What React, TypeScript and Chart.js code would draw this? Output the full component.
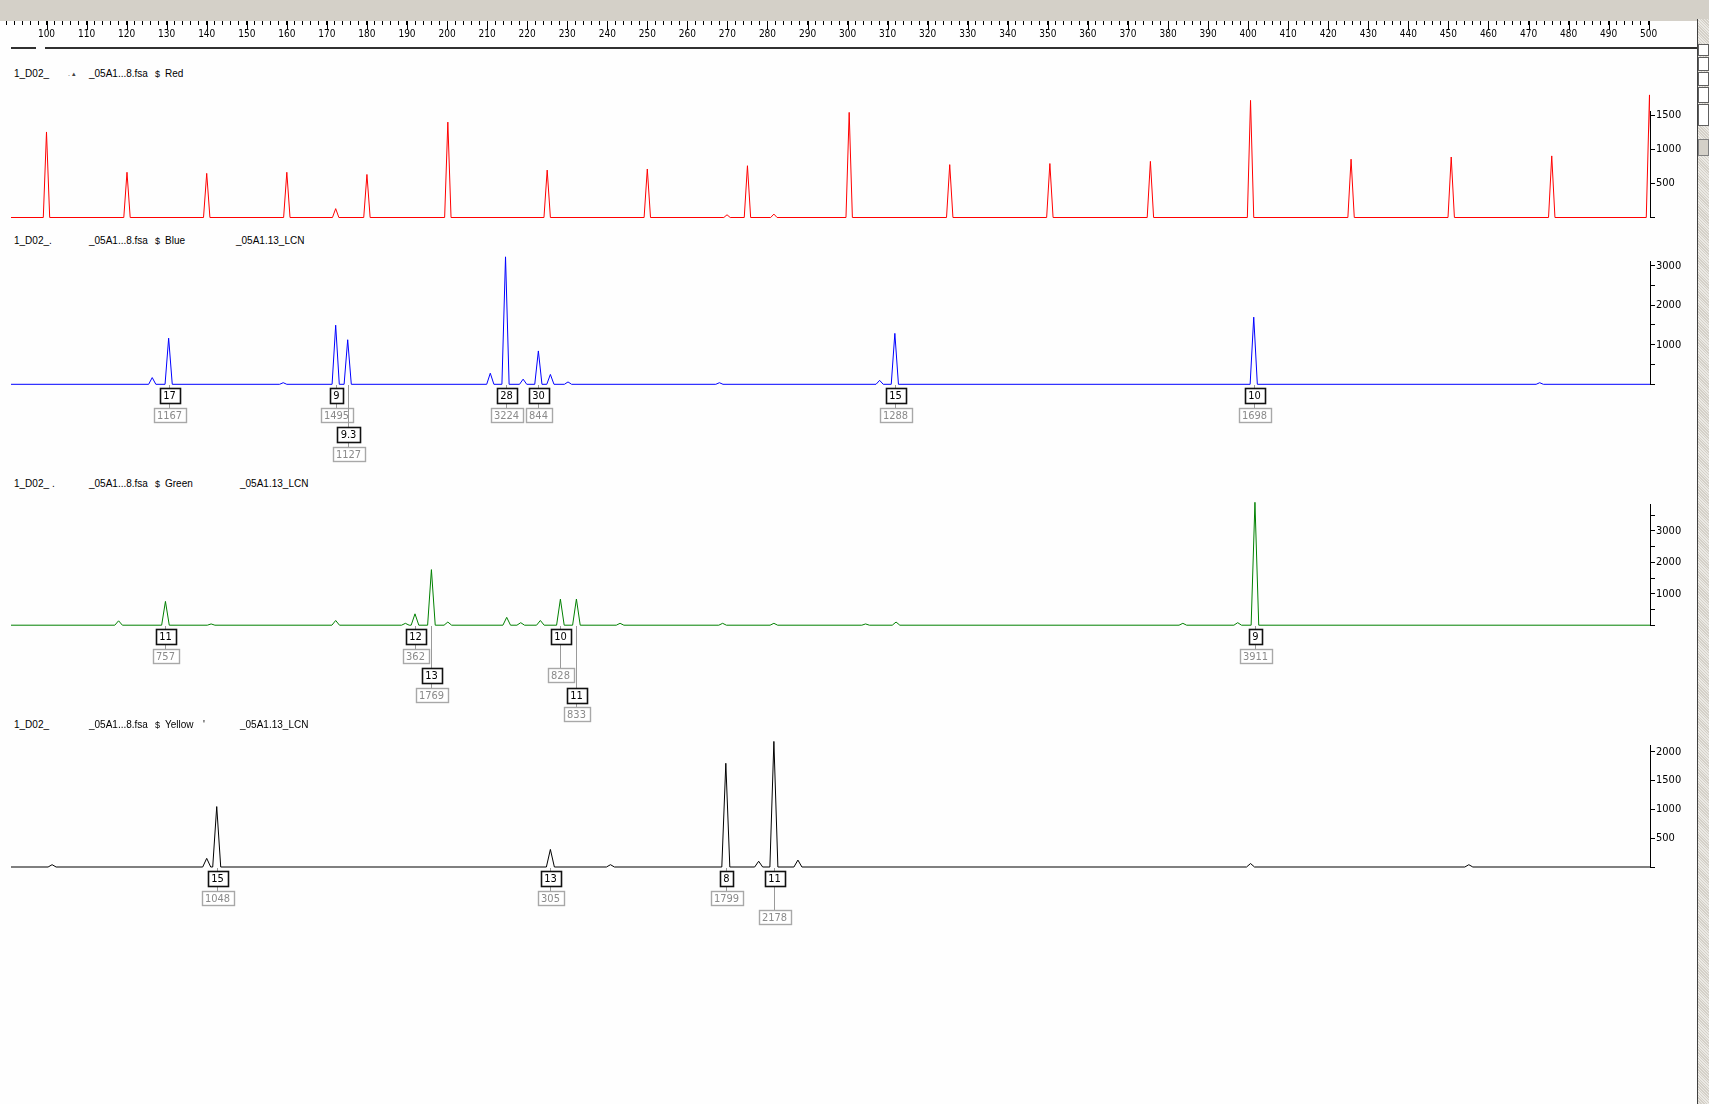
import { useEffect, useRef } from 'react';
import { Chart, registerables } from 'chart.js';

Chart.register(...registerables);

const W = 1697;
const H = 1104;
const X_MIN = 91.14;
const X_MAX = 500.33;
const RULER_MIN = 88.39;

const NARROW = '"Liberation Sans Narrow", "Arial Narrow", "DejaVu Sans Condensed", "Liberation Sans", sans-serif';
const UI = '"Liberation Sans", Arial, sans-serif';

// ---------- ruler ----------
const rulerFirstLabel = 100;
const rulerLastLabel = 500;
const rulerLabelStep = 10;
const rulerMinorStep = 2;

// ---------- Red (size standard) ----------
const redPeakSize = [100.0, 120.1, 140.0, 160.0, 172.2, 180.0, 200.2, 225.0, 250.0, 269.9, 275.0, 281.6, 300.4, 325.5, 350.5, 375.6, 400.6, 425.7, 450.7, 475.8, 500.2];
const redPeakRfu = [1254, 663, 647, 663, 130, 631, 1398, 695, 711, 40, 759, 50, 1541, 775, 791, 823, 1717, 855, 887, 903, 1797];
const redTicks = [0, 500, 1000, 1500];
const redTickLabels = ['', '500', '1000', '1500'];

// ---------- Blue ----------
const bluePeakSize = [126.4, 130.5, 159.1, 172.2, 175.2, 210.8, 214.6, 219.0, 222.8, 225.8, 230.2, 268.0, 308.0, 311.8, 401.4, 472.8];
const bluePeakRfu = [170, 1167, 40, 1495, 1127, 280, 3224, 130, 844, 250, 60, 40, 100, 1288, 1698, 40];
const blueTicks = [0, 500, 1000, 1500, 2000, 2500, 3000];
const blueTickLabels = ['', '', '1000', '', '2000', '', '3000'];
const blueAllele = ['17', '9', '9.3', '28', '30', '15', '10'];
const blueAlleleSize = [130.5, 172.2, 175.2, 214.6, 222.8, 311.8, 401.4];
const blueAlleleHeight = ['1167', '1495', '1127', '3224', '844', '1288', '1698'];
const blueAlleleTier = [0, 0, 2, 0, 0, 0, 0];
const blueHeightTier = [1, 1, 3, 1, 1, 1, 1];

// ---------- Green ----------
const greenPeakSize = [118.0, 129.7, 141.1, 172.2, 189.6, 192.0, 196.1, 200.2, 214.9, 218.4, 223.3, 228.3, 232.3, 243.2, 268.8, 281.6, 304.5, 312.1, 383.7, 397.4, 401.7];
const greenPeakRfu = [140, 757, 40, 150, 60, 362, 1769, 100, 250, 80, 150, 828, 833, 60, 60, 60, 40, 100, 60, 80, 3911];
const greenTicks = [0, 500, 1000, 1500, 2000, 2500, 3000, 3500];
const greenTickLabels = ['', '', '1000', '', '2000', '', '3000', ''];
const greenAllele = ['11', '12', '13', '10', '11', '9'];
const greenAlleleSize = [129.7, 192.0, 196.1, 228.3, 232.3, 401.7];
const greenAlleleHeight = ['757', '362', '1769', '828', '833', '3911'];
const greenAlleleTier = [0, 0, 2, 0, 3, 0];
const greenHeightTier = [1, 1, 3, 2, 4, 1];

// ---------- Yellow (drawn black) ----------
const yellowPeakSize = [101.4, 140.0, 142.5, 225.8, 240.8, 269.6, 277.8, 281.6, 287.6, 400.6, 455.1];
const yellowPeakRfu = [40, 150, 1048, 305, 40, 1799, 100, 2178, 120, 60, 40];
const yellowTicks = [0, 500, 1000, 1500, 2000];
const yellowTickLabels = ['', '500', '1000', '1500', '2000'];
const yellowAllele = ['15', '13', '8', '11'];
const yellowAlleleSize = [142.5, 225.8, 269.6, 281.6];
const yellowAlleleHeight = ['1048', '305', '1799', '2178'];
const yellowAlleleTier = [0, 0, 0, 0];
const yellowHeightTier = [1, 1, 1, 2];

type Labels = { allele: string[]; size: number[]; height: string[]; aTier: number[]; hTier: number[] };
type Panel = {
  color: string; sizes: number[]; rfu: number[]; half: number; yMax: number;
  ticks: number[]; tickLabels: string[]; top: number; base: number; labels?: Labels;
};

const PANELS: Panel[] = [
  { color: '#ff0000', sizes: redPeakSize, rfu: redPeakRfu, half: 0.8, yMax: 1551, ticks: redTicks, tickLabels: redTickLabels, top: 111.7, base: 217.5 },
  { color: '#0000ff', sizes: bluePeakSize, rfu: bluePeakRfu, half: 0.9, yMax: 3101, ticks: blueTicks, tickLabels: blueTickLabels, top: 261.7, base: 384.3,
    labels: { allele: blueAllele, size: blueAlleleSize, height: blueAlleleHeight, aTier: blueAlleleTier, hTier: blueHeightTier } },
  { color: '#008000', sizes: greenPeakSize, rfu: greenPeakRfu, half: 0.95, yMax: 3857, ticks: greenTicks, tickLabels: greenTickLabels, top: 504, base: 625.2,
    labels: { allele: greenAllele, size: greenAlleleSize, height: greenAlleleHeight, aTier: greenAlleleTier, hTier: greenHeightTier } },
  { color: '#000000', sizes: yellowPeakSize, rfu: yellowPeakRfu, half: 1.0, yMax: 2116, ticks: yellowTicks, tickLabels: yellowTickLabels, top: 745, base: 867,
    labels: { allele: yellowAllele, size: yellowAlleleSize, height: yellowAlleleHeight, aTier: yellowAlleleTier, hTier: yellowHeightTier } },
];

function buildTrace(sizes: number[], rfu: number[], half: number) {
  const pts: { x: number; y: number }[] = [{ x: X_MIN - 1, y: 0 }];
  sizes.forEach((s, i) => {
    pts.push({ x: s - half, y: 0 }, { x: s, y: rfu[i] }, { x: s + half, y: 0 });
  });
  pts.push({ x: X_MAX + 2, y: 0 });
  return pts;
}

function makeLabelPlugin(labels?: Labels) {
  return {
    id: 'alleleLabels',
    afterDatasetsDraw(chart: any) {
      if (!labels) return;
      const ctx = chart.ctx as CanvasRenderingContext2D;
      const xs = chart.scales.x;
      const ys = chart.scales.y;
      const base = ys.getPixelForValue(0);
      const tierTop = (t: number) => Math.round(base + 4 + t * 19.5);
      ctx.save();
      ctx.font = `11px ${NARROW}`;
      ctx.textAlign = 'center';
      ctx.textBaseline = 'middle';
      labels.allele.forEach((a, i) => {
        const px = Math.round(xs.getPixelForValue(labels.size[i])) + 0.5;
        const aTop = tierTop(labels.aTier[i]);
        const hTop = tierTop(labels.hTier[i]);
        const aW = Math.round(ctx.measureText(a).width + 7);
        const hW = Math.round(ctx.measureText(labels.height[i]).width + 7);
        ctx.strokeStyle = '#9a9a9a';
        ctx.lineWidth = 1;
        ctx.beginPath();
        ctx.moveTo(px, Math.round(base) + 1);
        ctx.lineTo(px, aTop);
        ctx.moveTo(px, aTop + 16);
        ctx.lineTo(px, hTop);
        ctx.stroke();
        const ax = Math.round(px - aW / 2) + 0.5;
        ctx.fillStyle = '#ffffff';
        ctx.fillRect(ax, aTop + 0.5, aW, 15);
        ctx.strokeStyle = '#111111';
        ctx.lineWidth = 1.6;
        ctx.strokeRect(ax, aTop + 0.5, aW, 15);
        ctx.fillStyle = '#000000';
        ctx.fillText(a, px, aTop + 8.5);
        const hx = Math.round(px - hW / 2) + 0.5;
        ctx.fillStyle = '#ffffff';
        ctx.fillRect(hx, hTop + 0.5, hW, 14);
        ctx.strokeStyle = '#a8a8a8';
        ctx.lineWidth = 1.4;
        ctx.strokeRect(hx, hTop + 0.5, hW, 14);
        ctx.fillStyle = '#8a8a8a';
        ctx.fillText(labels.height[i], px, hTop + 8);
      });
      ctx.restore();
    },
  };
}

const rulerMajorPlugin = {
  id: 'rulerMajor',
  afterDraw(chart: any) {
    const sx = chart.scales.x;
    const ctx = chart.ctx as CanvasRenderingContext2D;
    ctx.save();
    ctx.strokeStyle = '#000';
    ctx.lineWidth = 1;
    for (let v = rulerFirstLabel; v <= rulerLastLabel; v += rulerLabelStep) {
      const px = Math.round(sx.getPixelForValue(v)) + 0.5;
      ctx.beginPath();
      ctx.moveTo(px, sx.top);
      ctx.lineTo(px, sx.top + 9);
      ctx.stroke();
    }
    ctx.restore();
  },
};

function Title({ top, parts }: { top: number; parts: [number, string, number?, string?][] }) {
  return (
    <>
      {parts.map(([left, text, size, color], i) => (
        <span key={i} style={{ position: 'absolute', left, top, fontFamily: UI, fontSize: size ?? 10, color: color ?? '#000', whiteSpace: 'pre', lineHeight: '12px' }}>{text}</span>
      ))}
    </>
  );
}

export default function App() {
  const rulerRef = useRef<HTMLCanvasElement>(null);
  const panelRefs = useRef<(HTMLCanvasElement | null)[]>([]);

  useEffect(() => {
    const charts: Chart[] = [];
    if (rulerRef.current) {
      charts.push(new Chart(rulerRef.current, {
        type: 'line',
        data: { datasets: [{ data: [], pointRadius: 0 }] },
        options: {
          animation: false, responsive: false, devicePixelRatio: 1, events: [],
          layout: { padding: { left: 0, right: W - 1650, top: 0, bottom: 2 } },
          plugins: { legend: { display: false }, tooltip: { enabled: false } },
          scales: {
            x: {
              type: 'linear', position: 'bottom', min: RULER_MIN, max: X_MAX,
              afterFit: (s: any) => { s.height = 27; },
              afterBuildTicks: (s: any) => {
                const t: { value: number }[] = [];
                for (let v = Math.ceil(RULER_MIN / rulerMinorStep) * rulerMinorStep; v <= rulerLastLabel; v += rulerMinorStep) t.push({ value: v });
                s.ticks = t;
              },
              border: { display: false },
              grid: { display: true, drawOnChartArea: false, drawTicks: true, tickLength: 4, color: '#000', lineWidth: 1 },
              ticks: {
                autoSkip: false, maxRotation: 0, minRotation: 0, padding: 3,
                color: '#000', font: { family: NARROW, size: 10 },
                callback: (v: any) => (v % rulerLabelStep === 0 && v >= rulerFirstLabel ? String(v) : ''),
              },
            },
            y: { display: false },
          },
        },
        plugins: [rulerMajorPlugin],
      } as any));
    }
    PANELS.forEach((p, i) => {
      const cv = panelRefs.current[i];
      if (!cv) return;
      charts.push(new Chart(cv, {
        type: 'line',
        data: {
          datasets: [{
            data: buildTrace(p.sizes, p.rfu, p.half),
            borderColor: p.color, borderWidth: 1, pointRadius: 0, tension: 0,
            clip: { left: 0, right: 0, top: false, bottom: false },
          }],
        },
        options: {
          animation: false, responsive: false, devicePixelRatio: 1, events: [],
          layout: { padding: { left: 11, right: 0, top: p.top, bottom: H - p.base } },
          plugins: { legend: { display: false }, tooltip: { enabled: false } },
          scales: {
            x: { type: 'linear', min: X_MIN, max: X_MAX, display: false },
            y: {
              type: 'linear', position: 'right', min: 0, max: p.yMax,
              afterFit: (s: any) => { s.width = W - 1650; },
              afterBuildTicks: (s: any) => { s.ticks = p.ticks.map((v) => ({ value: v })); },
              border: { display: true, color: '#000', width: 1 },
              grid: { display: true, drawOnChartArea: false, drawTicks: true, tickLength: 5, color: '#000' },
              ticks: {
                autoSkip: false, padding: 1, color: '#000',
                font: { family: NARROW, size: 11 },
                callback: (_v: any, idx: number) => p.tickLabels[idx] ?? '',
              },
            },
          },
        },
        plugins: [makeLabelPlugin(p.labels)],
      } as any));
    });
    return () => charts.forEach((c) => c.destroy());
  }, []);

  return (
    <div style={{ position: 'fixed', left: 0, top: 0, width: 1709, height: 1104, background: '#fefefe', overflow: 'hidden' }}>
      <div style={{ position: 'absolute', left: 0, top: 0, width: 1709, height: 21, background: '#d4d0c8' }} />
      <canvas ref={rulerRef} width={W} height={50} style={{ position: 'absolute', left: 0, top: 0, width: W, height: 50 }} />
      <div style={{ position: 'absolute', left: 11, top: 47, width: 25, height: 2, background: '#303030' }} />
      <div style={{ position: 'absolute', left: 45, top: 47, width: W - 45, height: 2, background: '#303030' }} />

      <Title top={68} parts={[[14, '1_D02_'], [68, '. ▴', 7, '#444'], [89, '_05A1...8.fsa'], [155, '$', 9], [165, 'Red']]} />
      <Title top={235} parts={[[14, '1_D02_.', 10], [89, '_05A1...8.fsa'], [155, '$', 9], [165, 'Blue'], [236, '_05A1.13_LCN']]} />
      <Title top={478} parts={[[14, '1_D02_'], [52, '.'], [89, '_05A1...8.fsa'], [155, '$', 9], [165, 'Green'], [240, '_05A1.13_LCN']]} />
      <Title top={719} parts={[[14, '1_D02_'], [89, '_05A1...8.fsa'], [155, '$', 9], [165, 'Yellow'], [203, "'"], [240, '_05A1.13_LCN']]} />

      {PANELS.map((_, i) => (
        <canvas key={i} ref={(el) => { panelRefs.current[i] = el; }} width={W} height={H}
          style={{ position: 'absolute', left: 0, top: 0, width: W, height: H }} />
      ))}

      <div style={{ position: 'absolute', left: W, top: 19, width: 12, height: H - 19, borderLeft: '1px solid #404040',
        background: 'repeating-linear-gradient(45deg, #d4d0c8 0px, #d4d0c8 1px, #ebe9e4 1px, #ebe9e4 2px)' }} />
      <div style={{ position: 'absolute', left: W + 1, top: 44, width: 11, height: 12, background: '#fff', border: '1px solid #606060', boxSizing: 'border-box' }} />
      <div style={{ position: 'absolute', left: W + 1, top: 57, width: 11, height: 14, background: '#fff', border: '1px solid #606060', boxSizing: 'border-box' }} />
      <div style={{ position: 'absolute', left: W + 1, top: 72, width: 11, height: 14, background: '#fff', border: '1px solid #606060', boxSizing: 'border-box' }} />
      <div style={{ position: 'absolute', left: W + 1, top: 87, width: 11, height: 16, background: '#fff', border: '1px solid #606060', boxSizing: 'border-box' }} />
      <div style={{ position: 'absolute', left: W + 1, top: 104, width: 11, height: 22, background: '#fff', border: '1px solid #606060', boxSizing: 'border-box' }} />
      <div style={{ position: 'absolute', left: W + 1, top: 139, width: 11, height: 17, background: '#d4d0c8', border: '1px solid #808080', boxSizing: 'border-box' }} />
    </div>
  );
}
